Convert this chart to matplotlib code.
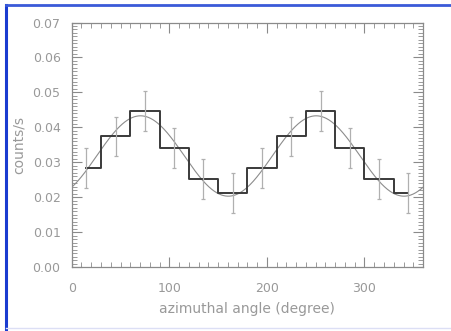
import numpy as np
import matplotlib.pyplot as plt
from matplotlib.ticker import MultipleLocator
from matplotlib.lines import Line2D

# Dane: histogram kątowy (środki binów co 30 stopni)
angles = [15, 45, 75, 105, 135, 165, 195, 225, 255, 285, 315, 345]
rates = [0.0283, 0.0374, 0.0446, 0.0340, 0.0252, 0.0212,
         0.0283, 0.0374, 0.0446, 0.0340, 0.0252, 0.0212]
errors = [0.0057] * 12

# Parametry dopasowania (modulacja cos 2phi)
fit_mean = 0.0318
fit_amp = 0.0115
fit_phase = 70.5

gray = '#8a8a8a'
txt = '#999999'

fig = plt.figure(figsize=(4.51, 3.31), dpi=100)
ax = fig.add_axes([0.159, 0.193, 0.779, 0.739])

# Krzywa dopasowania
phi = np.linspace(0, 360, 721)
ax.plot(phi, fit_mean + fit_amp * np.cos(np.radians(2 * (phi - fit_phase))),
        color='#8c8c8c', lw=0.8)

# Histogram schodkowy
ax.step(angles, rates, where='mid', color='#3a3a3a', lw=1.4)

# Słupki błędów
ax.errorbar(angles, rates, yerr=errors, fmt='none', ecolor='#b0b0b0',
            elinewidth=0.9, capsize=1.6, capthick=0.9)

ax.set_xlim(0, 360)
ax.set_ylim(0, 0.07)
ax.xaxis.set_major_locator(MultipleLocator(100))
ax.xaxis.set_minor_locator(MultipleLocator(10))
ax.yaxis.set_major_locator(MultipleLocator(0.01))
ax.yaxis.set_minor_locator(MultipleLocator(0.001))
ax.yaxis.set_major_formatter(plt.FormatStrFormatter('%.2f'))

ax.tick_params(which='both', direction='in', top=True, right=True,
               color=gray, labelcolor=txt, labelsize=9)
ax.tick_params(which='major', length=7, width=0.8)
ax.tick_params(which='minor', length=3.5, width=0.6)
ax.tick_params(axis='x', pad=10.5)
ax.tick_params(axis='y', pad=8)
for s in ax.spines.values():
    s.set_color(gray)
    s.set_linewidth(0.9)

ax.set_xlabel('azimuthal angle (degree)', color=txt, fontsize=10, labelpad=5.5)
ax.set_ylabel('counts/s', color=txt, fontsize=10, labelpad=5)

# Ramka wokół rysunku
W, H = 451, 331
fig.add_artist(Line2D([6 / W, 6 / W], [0, 1 - 5 / H], color='#1a3cd0', lw=2.2,
                      transform=fig.transFigure))
fig.add_artist(Line2D([6 / W, 1], [1 - 5 / H, 1 - 5 / H], color='#3a5ad8', lw=2.0,
                      transform=fig.transFigure))
fig.add_artist(Line2D([6 / W, 1], [3 / H, 3 / H], color='#dcdff5', lw=1.0,
                      transform=fig.transFigure))

fig.savefig('out.png', dpi=100)
